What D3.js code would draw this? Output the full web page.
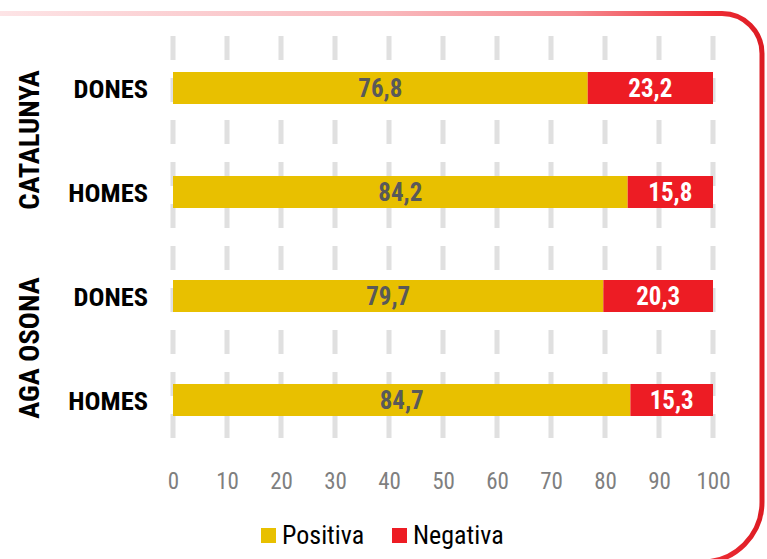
<!DOCTYPE html>
<html>
<head>
<meta charset="utf-8">
<script src="https://cdn.jsdelivr.net/npm/d3@7"></script>
<style>
  html, body { margin: 0; padding: 0; background: #fff; }
  svg { display: block; }
  .narrow { font-family: "Liberation Sans Narrow", "Arial Narrow", "Roboto Condensed", Arial, sans-serif; }
</style>
</head>
<body>
<svg id="chart" width="767" height="559"></svg>
<script>
const groups = ['CATALUNYA', 'AGA OSONA'];
const categories = ['CATALUNYA|DONES', 'CATALUNYA|HOMES', 'AGA OSONA|DONES', 'AGA OSONA|HOMES'];
const positiva = [76.8, 84.2, 79.7, 84.7];
const negativa = [23.2, 15.8, 20.3, 15.3];
const ticks = [0, 10, 20, 30, 40, 50, 60, 70, 80, 90, 100];
const seriesNames = ['Positiva', 'Negativa'];
const colours = ['#e8c000', '#ed1c24'];

const svg = d3.select('#chart');
const fmt = (v) => d3.format('.1f')(v).replace('.', ',');

// frame with gradient
const defs = svg.append('defs');
const grad = defs.append('linearGradient')
  .attr('id', 'frameGrad')
  .attr('gradientUnits', 'userSpaceOnUse')
  .attr('x1', 0).attr('y1', 0).attr('x2', 765).attr('y2', 0);
[[0, '#fde4e6'], [0.5, '#f9b9bd'], [0.75, '#f58a90'], [0.93, '#ef2e36'], [1, '#dc1a22']]
  .forEach(([o, c]) => grad.append('stop').attr('offset', o).attr('stop-color', c));

svg.append('path')
  .attr('d', 'M-5,13.5 H722 A40,40 0 0 1 762,53.5 V502 A60,60 0 0 1 702,562 H-5')
  .attr('fill', 'none')
  .attr('stroke', 'url(#frameGrad)')
  .attr('stroke-width', 5);

const x = d3.scaleLinear().domain([0, 100]).range([173, 713]);
const y = d3.scaleBand().domain(categories).range([36, 452]).paddingInner(0.6923).paddingOuter(0.3462);

// dashed gridlines
svg.append('g')
  .selectAll('line')
  .data(ticks)
  .join('line')
  .attr('x1', (d) => x(d))
  .attr('x2', (d) => x(d))
  .attr('y1', 36)
  .attr('y2', 440)
  .attr('stroke', '#e0e0e0')
  .attr('stroke-width', 5)
  .attr('stroke-dasharray', '24,18');

// tick labels
const axis = d3.axisBottom(x).tickValues(ticks).tickSize(0).tickPadding(0);
const axisG = svg.append('g')
  .attr('transform', 'translate(0,472)')
  .call(axis);
axisG.select('.domain').remove();
axisG.selectAll('text')
  .attr('class', 'narrow')
  .attr('fill', '#7f7f7f')
  .attr('font-size', 23)
  .attr('dy', '0.72em');

// stacked bars
const rows = categories.map((c, i) => ({ cat: c, pos: positiva[i], neg: negativa[i] }));
const barG = svg.append('g');
rows.forEach((r) => {
  const segs = [
    { x0: 0, x1: r.pos, v: r.pos, c: colours[0], t: '#595959' },
    { x0: r.pos, x1: r.pos + r.neg, v: r.neg, c: colours[1], t: '#ffffff' },
  ];
  segs.forEach((s) => {
    barG.append('rect')
      .attr('x', x(s.x0))
      .attr('y', y(r.cat))
      .attr('width', x(s.x1) - x(s.x0))
      .attr('height', y.bandwidth())
      .attr('fill', s.c);
    barG.append('text')
      .attr('class', 'narrow')
      .attr('x', (x(s.x0) + x(s.x1)) / 2)
      .attr('y', y(r.cat) + y.bandwidth() / 2)
      .attr('dy', '0.36em')
      .attr('text-anchor', 'middle')
      .attr('font-weight', 'bold')
      .attr('font-size', 25)
      .attr('fill', s.t)
      .text(fmt(s.v));
  });
});

// category labels
svg.append('g')
  .selectAll('text')
  .data(categories)
  .join('text')
  .attr('class', 'narrow')
  .attr('x', 148)
  .attr('y', (d) => y(d) + y.bandwidth() / 2)
  .attr('dy', '0.36em')
  .attr('text-anchor', 'end')
  .attr('font-weight', 'bold')
  .attr('font-size', 26.5)
  .attr('fill', '#000')
  .text((d) => d.split('|')[1]);

// group labels (rotated)
groups.forEach((g) => {
  const members = categories.filter((c) => c.startsWith(g + '|'));
  const cy = (y(members[0]) + y(members[members.length - 1]) + y.bandwidth()) / 2;
  svg.append('text')
    .attr('class', 'narrow')
    .attr('transform', `translate(39,${cy}) rotate(-90)`)
    .attr('text-anchor', 'middle')
    .attr('font-weight', 'bold')
    .attr('font-size', 28.5)
    .attr('fill', '#000')
    .text(g);
});

// legend
const legend = svg.append('g');
const legendX = [261, 392];
seriesNames.forEach((name, i) => {
  legend.append('rect')
    .attr('x', legendX[i])
    .attr('y', 528)
    .attr('width', 15)
    .attr('height', 15)
    .attr('fill', colours[i]);
  legend.append('text')
    .attr('class', 'narrow')
    .attr('x', legendX[i] + 21)
    .attr('y', 544)
    .attr('font-size', 26)
    .attr('fill', '#000')
    .text(name);
});
</script>
</body>
</html>
